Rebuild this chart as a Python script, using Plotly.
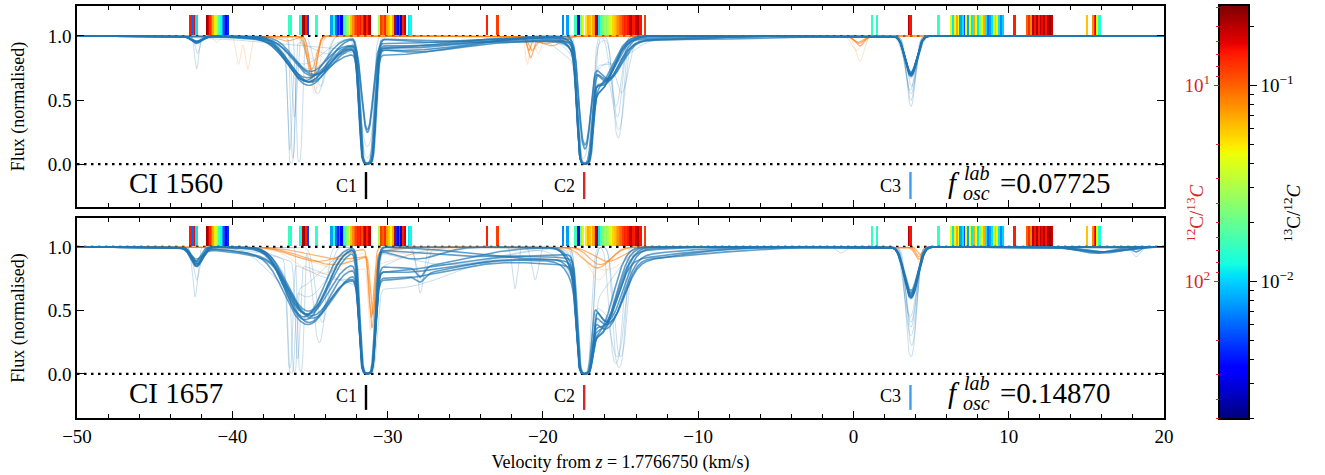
import numpy as np
import plotly.graph_objects as go

# ---------------- data ----------------
VEL_MIN, VEL_MAX = -50.0, 20.0

# Absorption-model components: (velocity km/s, central optical depth, width km/s)
TOP_THICK = [
    [(-42.3, 0.05, 0.35), (-35.1, 0.45, 1.1), (-29.5, 0.08, 4.5), (-31.3, 6, 0.26), (-17.3, 6, 0.25), (-16.5, 0.55, 0.85), (-17, 0.03, 5), (3.7, 0.36, 0.35)],
    [(-42.3, 0.04, 0.35), (-35.2, 0.40, 1.15), (-29.5, 0.10, 4.5), (-31.35, 5, 0.26), (-17.35, 5, 0.24), (-16.4, 0.50, 0.85), (3.7, 0.34, 0.35)],
    [(-42.3, 0.06, 0.30), (-34.9, 0.33, 1.1), (-29.0, 0.12, 4.0), (-31.3, 6, 0.27), (-17.3, 6, 0.26), (-15.9, 0.42, 0.8), (3.7, 0.38, 0.33)],
    [(-42.3, 0.05, 0.35), (-35.0, 0.30, 1.0), (-28.5, 0.13, 3.5), (-31.3, 1.3, 0.28), (-17.3, 2.0, 0.26), (-15.9, 0.40, 0.8), (-17, 0.04, 5), (3.7, 0.35, 0.35)],
    [(-35.2, 0.36, 1.2), (-30.0, 0.06, 5), (-31.3, 1.25, 0.28), (-17.25, 6, 0.25), (-16.6, 0.52, 0.9), (3.7, 0.37, 0.36)],
    [(-42.3, 0.05, 0.30), (-35.3, 0.42, 1.05), (-31.25, 6, 0.26), (-17.3, 6, 0.25), (-16.5, 0.56, 0.85), (-23, 0.05, 6), (3.72, 0.36, 0.35)],
    [(-42.3, 0.04, 0.35), (-34.8, 0.28, 1.1), (-30.0, 0.16, 4.0), (-31.3, 6, 0.26), (-17.3, 1.8, 0.27), (-15.8, 0.38, 0.85), (-12, 0.03, 6), (3.7, 0.33, 0.35)],
    [(-35.1, 0.44, 1.1), (-31.3, 6, 0.26), (-17.3, 6, 0.25), (-16.3, 0.47, 0.9), (-27, 0.05, 3), (3.7, 0.36, 0.34)],
    [(-42.35, 0.05, 0.3), (-35.0, 0.38, 1.1), (-31.0, 0.1, 4.5), (-31.3, 6, 0.26), (-17.3, 6, 0.25), (-16.2, 0.45, 0.9), (-15, 0.04, 4), (3.7, 0.35, 0.35)],
]
TOP_FAINT = [
    [(-42.3, 0.3, 0.12), (-36.2, 5, 0.12), (-35.0, 0.3, 1.2), (-31.3, 6, 0.26), (-17.3, 6, 0.26), (-15.15, 1.6, 0.25), (3.7, 0.8, 0.25)],
    [(-35.7, 4, 0.12), (-34.3, 0.5, 0.35), (-31.3, 3, 0.3), (-17.4, 3, 0.26), (-16.2, 0.4, 0.7), (-15.1, 1.2, 0.3), (3.7, 0.6, 0.3)],
    [(-36.1, 3, 0.10), (-33.5, 0.15, 1.5), (-28, 0.1, 2.5), (-31.2, 6, 0.26), (-17.2, 6, 0.26), (-15.3, 0.8, 0.3), (3.75, 0.5, 0.28)],
    [(-42.25, 0.15, 0.15), (-36.3, 2, 0.10), (-35.5, 0.25, 1.3), (-31.3, 2, 0.35), (-17.3, 4, 0.26), (-16.8, 0.3, 1.2), (-14.9, 0.5, 0.35), (3.7, 0.7, 0.25)],
    [(-30, 0.12, 6), (-31.3, 6, 0.26), (-17.3, 6, 0.26), (-16, 0.25, 1.5), (3.7, 0.4, 0.4)],
    [(-36.0, 1, 0.15), (-34.5, 0.6, 0.4), (-31.4, 6, 0.24), (-18, 0.2, 1), (-17.3, 6, 0.26), (-15.2, 1.0, 0.25), (3.65, 0.55, 0.3)],
]
TOP_ORANGE = [
    [(-34.85, 0.45, 0.25), (-20.8, 0.16, 0.15), (-19.8, 0.06, 0.8), (0.35, 0.06, 0.3)],
    [(-34.8, 0.38, 0.22), (-20.9, 0.12, 0.15), (0.3, 0.05, 0.3), (-36.5, 0.04, 0.5)],
    [(-34.9, 0.30, 0.30), (-20.7, 0.10, 0.2), (-19.5, 0.08, 0.7), (0.4, 0.08, 0.3)],
    [(-39.6, 0.25, 0.15), (-39.0, 0.3, 0.15), (-34.7, 0.6, 0.25), (-20.3, 0.15, 0.2), (0.4, 0.22, 0.25)],
    [(-41, 0.05, 0.2), (-34.9, 0.2, 0.4), (-21, 0.25, 0.12), (0.2, 0.12, 0.3)],
]

BOT_THICK = [
    [(-42.3, 0.16, 0.35), (-35.2, 0.78, 1.15), (-30.5, 0.28, 4.5), (-31.3, 6, 0.26), (-27.9, 0.08, 0.3), (-17.3, 6, 0.25), (-16.5, 1.1, 0.9), (-17, 0.12, 4.5), (3.7, 0.45, 0.4), (16, 0.04, 1.2)],
    [(-42.3, 0.14, 0.35), (-35.3, 0.85, 1.1), (-31.3, 6, 0.26), (-17.3, 6, 0.25), (-16.4, 1.0, 0.9), (-20, 0.1, 4), (3.7, 0.5, 0.38), (15.5, 0.05, 1)],
    [(-42.35, 0.12, 0.3), (-35.1, 0.7, 1.15), (-31.35, 6, 0.26), (-17.35, 6, 0.24), (-15.9, 0.85, 0.85), (-23, 0.08, 5), (3.7, 0.48, 0.4), (16.2, 0.04, 1.2)],
    [(-42.3, 0.15, 0.35), (-35.0, 0.6, 1.1), (-30.5, 0.3, 4.5), (-31.3, 6, 0.26), (-17.3, 6, 0.25), (-15.9, 0.8, 0.9), (-17, 0.15, 4.5), (3.7, 0.45, 0.4)],
    [(-42.3, 0.10, 0.4), (-35.2, 0.72, 1.2), (-29, 0.18, 3.5), (-31.3, 6, 0.27), (-27.9, 0.1, 0.25), (-17.3, 6, 0.26), (-16.6, 1.15, 0.85), (3.7, 0.52, 0.4), (16, 0.05, 1.3)],
    [(-42.3, 0.16, 0.3), (-35.4, 0.8, 1.05), (-31.25, 6, 0.26), (-17.3, 6, 0.25), (-16.3, 1.0, 0.95), (3.72, 0.5, 0.4), (18.2, 0.04, 0.25)],
    [(-42.3, 0.13, 0.35), (-34.9, 0.66, 1.15), (-31, 0.22, 5), (-31.3, 6, 0.26), (-17.25, 6, 0.25), (-15.8, 0.8, 0.85), (-15, 0.1, 5), (3.7, 0.42, 0.38)],
    [(-42.2, 0.14, 0.35), (-35.2, 0.75, 1.1), (-31.3, 6, 0.26), (-28.2, 0.1, 1.5), (-17.3, 6, 0.25), (-16.5, 1.2, 0.9), (3.7, 0.47, 0.4), (15.8, 0.04, 1.4)],
    [(-42.3, 0.12, 0.35), (-35.1, 0.82, 1.1), (-29.5, 0.22, 4.0), (-31.3, 6, 0.26), (-17.3, 6, 0.25), (-16.0, 0.95, 0.9), (-18, 0.1, 4.5), (3.7, 0.5, 0.38)],
]
BOT_FAINT = [
    [(-42.4, 0.5, 0.15), (-36.2, 5, 0.12), (-35.2, 0.5, 1.2), (-31.3, 6, 0.26), (-17.3, 6, 0.26), (-15.1, 3, 0.25), (3.7, 2.0, 0.25)],
    [(-35.6, 4, 0.12), (-34.4, 1.4, 0.3), (-31.3, 6, 0.3), (-27.9, 0.45, 0.2), (-17.3, 6, 0.26), (-16, 0.7, 1), (-15.2, 1.5, 0.3), (3.7, 1.2, 0.3), (-0.8, 0.05, 0.25)],
    [(-36.3, 3, 0.12), (-33, 0.3, 2.5), (-31.3, 6, 0.26), (-21.8, 0.4, 0.15), (-17.4, 6, 0.26), (-15.0, 2, 0.3), (3.7, 0.9, 0.3), (18.2, 0.08, 0.25)],
    [(-42.3, 0.3, 0.2), (-35.8, 2, 0.12), (-30, 0.4, 4), (-31.2, 6, 0.26), (-17.2, 6, 0.26), (-16.8, 0.5, 1.2), (3.75, 1.5, 0.25)],
    [(-34.2, 0.9, 0.35), (-31.3, 6, 0.26), (-27.8, 0.3, 0.3), (-17.3, 6, 0.26), (-15.3, 2.5, 0.28), (-20.5, 0.3, 0.2), (3.65, 0.8, 0.35)],
    [(-36.0, 4, 0.10), (-36, 0.4, 1.5), (-26, 0.15, 3), (-31.35, 6, 0.26), (-17.3, 6, 0.26), (-16.2, 0.9, 0.9), (3.7, 1.0, 0.28)],
]
BOT_ORANGE = [
    [(-31.0, 0.95, 0.14), (-33, 0.1, 2), (-16.3, 0.15, 0.7), (4.2, 0.08, 0.2)],
    [(-31.05, 0.8, 0.15), (-34.5, 0.12, 1.5), (-16.5, 0.18, 0.8), (4.3, 0.06, 0.2)],
    [(-30.95, 0.7, 0.14), (-33.5, 0.15, 1.8), (-15.8, 0.12, 0.9), (4.2, 0.1, 0.25)],
    [(-31.0, 0.5, 0.2), (-35.5, 0.1, 1), (-33.8, 0.2, 1.2), (-16.4, 0.3, 0.6), (-28.5, 0.06, 1.5)],
    [(-31.1, 0.9, 0.12), (-32.5, 0.2, 2.5), (-16, 0.2, 1.2), (4.3, 0.15, 0.2)],
]

# transition markers: velocity and 13C/12C value (colour)
BAR_VEL = [-42.72, -42.58, -42.45, -42.38, -42.3,
           -41.6, -41.5, -41.4, -41.3, -41.2, -41.1, -41.0, -40.9, -40.8, -40.7, -40.6, -40.5, -40.4, -40.25,
           -36.3, -36.2, -35.6, -35.42, -35.33, -35.25, -35.12, -34.6, -34.55,
           -33.6, -33.45, -33.3, -33.15, -33.05, -32.95,
           -32.8, -32.7, -32.6, -32.5, -32.4, -32.3, -32.2, -32.1, -32.0, -31.9, -31.8, -31.7, -31.6, -31.5, -31.4, -31.3, -31.2, -31.1,
           -30.5, -30.38, -30.25, -30.12, -30.0, -29.9, -29.78, -29.65, -29.52, -29.42, -29.32, -29.2, -29.1, -28.95, -28.85, -28.6, -28.5,
           -23.6, -22.9,
           -18.67, -18.39, -17.88, -17.71, -17.6, -17.49, -17.38, -17.21, -17.06, -16.95, -16.84, -16.74, -16.63, -16.52, -16.37, -16.2,
           -16.1, -15.98, -15.87, -15.77, -15.66, -15.55, -15.44, -15.34, -15.23, -15.12, -15.01, -14.91, -14.8, -14.7, -14.59, -14.48,
           -14.38, -14.27, -14.16, -14.06, -13.95, -13.84, -13.69, -13.41,
           1.2, 1.53, 3.58, 3.68, 5.5,
           6.3, 6.42, 6.55, 6.68, 6.8, 6.92, 7.05, 7.18, 7.3, 7.42, 7.55, 7.68, 7.8, 7.92, 8.05, 8.18, 8.3, 8.42, 8.55, 8.68, 8.8, 8.92,
           9.05, 9.18, 9.3, 9.42, 9.55, 9.65,
           10.38, 11.2, 11.32, 11.45, 11.58, 11.7, 11.82, 11.95, 12.08, 12.2, 12.32, 12.45, 12.58, 12.7, 12.8,
           15.07, 15.48, 15.58, 15.66, 15.74, 15.85]
BAR_RATIO = [0.14, 0.006, 0.14, 0.16, 0.011,
             0.22, 0.17, 0.13, 0.095, 0.068, 0.05, 0.035, 0.024, 0.017, 0.012, 0.008, 0.005, 0.0032, 0.0045,
             0.015, 0.014, 0.012, 0.2, 0.22, 0.14, 0.005, 0.014, 0.015,
             0.008, 0.014, 0.006, 0.0042, 0.007, 0.0035,
             0.012, 0.016, 0.022, 0.03, 0.042, 0.06, 0.08, 0.1, 0.12, 0.14, 0.13, 0.15, 0.11, 0.16, 0.2, 0.14, 0.18, 0.21,
             0.03, 0.12, 0.1, 0.13, 0.075, 0.06, 0.045, 0.07, 0.2, 0.0045, 0.0035, 0.006, 0.0025, 0.14, 0.18, 0.011, 0.012,
             0.14, 0.12,
             0.007, 0.0078, 0.015, 0.0027, 0.004, 0.02, 0.04, 0.05, 0.068, 0.06, 0.042, 0.07, 0.08, 0.21, 0.011, 0.016,
             0.022, 0.028, 0.025, 0.032, 0.04, 0.045, 0.055, 0.06, 0.07, 0.08, 0.09, 0.1, 0.12, 0.14, 0.13, 0.15,
             0.17, 0.2, 0.15, 0.14, 0.18, 0.21, 0.15, 0.12,
             0.015, 0.014, 0.2, 0.15, 0.015,
             0.042, 0.011, 0.045, 0.07, 0.04, 0.008, 0.011, 0.005, 0.042, 0.008, 0.045, 0.011, 0.07, 0.042, 0.011, 0.026, 0.045, 0.068, 0.011, 0.006, 0.008, 0.011,
             0.04, 0.06, 0.045, 0.011, 0.007, 0.01,
             0.14, 0.1, 0.13, 0.08, 0.2, 0.15, 0.21, 0.14, 0.2, 0.16, 0.21, 0.15, 0.2, 0.22, 0.18,
             0.06, 0.08, 0.14, 0.2, 0.045, 0.013]

CBAR_RANGE = [0.002, 0.2535]   # 13C/12C range of the colour bar

PANEL_LABELS = ["CI 1560", "CI 1657"]
FOSC_VALUES = ["0.07725", "0.14870"]
COMP_NAMES = ["C1", "C2", "C3"]
COMP_VEL = [-31.39, -17.34, 3.67]
COMP_COLORS = ["#000000", "#d62728", "#3d9ef2"]

X_TICKS = [-50, -40, -30, -20, -10, 0, 10, 20]
Y_TICKS = [0.0, 0.5, 1.0]

# ---------------- helpers ----------------
V = np.linspace(VEL_MIN, VEL_MAX, 4001)


def profile(comps):
    tau = np.zeros_like(V)
    for v0, t0, w in comps:
        tau += t0 * np.exp(-0.5 * ((V - v0) / w) ** 2)
    return np.exp(-tau)


# matplotlib "jet"
_jet_t = [0, 0.11, 0.125, 0.34, 0.35, 0.375, 0.64, 0.65, 0.66, 0.89, 0.91, 1.0]
_r = np.interp(_jet_t, [0, 0.35, 0.66, 0.89, 1], [0, 0, 1, 1, 0.5])
_g = np.interp(_jet_t, [0, 0.125, 0.375, 0.64, 0.91, 1], [0, 0, 1, 1, 0, 0])
_b = np.interp(_jet_t, [0, 0.11, 0.34, 0.65, 1], [0.5, 1, 1, 0, 0])
JET = [[t, f"rgb({int(r*255)},{int(g*255)},{int(b*255)})"] for t, r, g, b in zip(_jet_t, _r, _g, _b)]

LMIN, LMAX = np.log10(CBAR_RANGE[0]), np.log10(CBAR_RANGE[1])

BLUE = "#1f77b4"
ORANGE = "#ff7f0e"
FONT = "Liberation Serif"

fig = go.Figure()

panels = [("x", "y", TOP_THICK, TOP_FAINT, TOP_ORANGE),
          ("x2", "y2", BOT_THICK, BOT_FAINT, BOT_ORANGE)]

for xa, ya, thick, faint, orange in panels:
    for lvl in (1.0, 0.0):
        fig.add_trace(go.Scatter(x=[VEL_MIN, VEL_MAX], y=[lvl, lvl], mode="lines",
                                 line=dict(color="black", width=2.2, dash="2.5px,4.5px"),
                                 xaxis=xa, yaxis=ya, showlegend=False, hoverinfo="skip"))
    for comps in faint:
        fig.add_trace(go.Scatter(x=V, y=profile(comps), mode="lines",
                                 line=dict(color=BLUE, width=0.8), opacity=0.3,
                                 xaxis=xa, yaxis=ya, showlegend=False, hoverinfo="skip"))
    for i, comps in enumerate(orange):
        fig.add_trace(go.Scatter(x=V, y=profile(comps), mode="lines",
                                 line=dict(color=ORANGE, width=1.2 if i < 3 else 0.7),
                                 opacity=0.6 if i < 3 else 0.3,
                                 xaxis=xa, yaxis=ya, showlegend=False, hoverinfo="skip"))
    for comps in thick:
        fig.add_trace(go.Scatter(x=V, y=profile(comps), mode="lines",
                                 line=dict(color=BLUE, width=1.6), opacity=0.7,
                                 xaxis=xa, yaxis=ya, showlegend=False, hoverinfo="skip"))
    fig.add_trace(go.Bar(x=BAR_VEL, y=[0.155] * len(BAR_VEL), base=1.008, width=0.12,
                         marker=dict(color=np.log10(BAR_RATIO), colorscale=JET, cmin=LMIN, cmax=LMAX,
                                     line=dict(width=0)),
                         xaxis=xa, yaxis=ya, showlegend=False, hoverinfo="skip"))

cb_y = np.linspace(LMIN, LMAX, 400)
fig.add_trace(go.Heatmap(x=[0], y=cb_y, z=[[v] for v in cb_y], colorscale=JET, zmin=LMIN, zmax=LMAX,
                         showscale=False, xaxis="x3", yaxis="y3", hoverinfo="skip"))
fig.add_trace(go.Scatter(x=[0], y=[-1], mode="markers", marker=dict(opacity=0), xaxis="x3", yaxis="y4",
                         showlegend=False, hoverinfo="skip"))

# ---------------- layout ----------------
XD = [0, 0.9283]
axis_common = dict(showline=True, linecolor="black", linewidth=1.6, mirror="ticks", ticks="inside",
                   tickcolor="black", tickwidth=1.3, ticklen=7, showgrid=False, zeroline=False,
                   automargin=False, tickfont=dict(family=FONT, size=19, color="black"))
xcommon = dict(axis_common, range=[VEL_MIN, VEL_MAX], tickvals=X_TICKS,
               minor=dict(dtick=2, tick0=0, ticklen=4, ticks="inside", tickcolor="black", tickwidth=1.1))
ycommon = dict(axis_common, tickvals=Y_TICKS, ticktext=[f"{t:.1f}" for t in Y_TICKS],
               title=dict(text="Flux (normalised)", font=dict(family=FONT, size=18, color="black"), standoff=18))

minor_right = [np.log10(k * 10.0 ** e) for e in (-3, -2, -1) for k in range(2, 10)
               if LMIN <= np.log10(k * 10.0 ** e) <= LMAX]
minor_left = [-np.log10(k * 10.0 ** e) for e in (0, 1, 2) for k in range(2, 10)
              if LMIN <= -np.log10(k * 10.0 ** e) <= LMAX]

fig.update_layout(
    width=1325, height=475,
    margin=dict(l=77, r=77, t=6, b=57, autoexpand=False),
    paper_bgcolor="white", plot_bgcolor="white",
    bargap=0,
    xaxis=dict(xcommon, domain=XD, anchor="y", showticklabels=False),
    yaxis=dict(ycommon, domain=[0.5121, 1.0], anchor="x", range=[-0.335, 1.234]),
    xaxis2=dict(xcommon, domain=XD, anchor="y2",
                title=dict(text="Velocity from <i>z</i> = 1.7766750 (km/s)",
                           font=dict(family=FONT, size=18, color="black"), standoff=10)),
    yaxis2=dict(ycommon, domain=[0.0, 0.4854], anchor="x2", range=[-0.347, 1.228]),
    xaxis3=dict(domain=[0.9761, 1.0], anchor="y3", range=[-0.5, 0.5], showticklabels=False, ticks="",
                showline=True, linecolor="black", linewidth=1.6, mirror=True, showgrid=False, zeroline=False,
                automargin=False),
    yaxis3=dict(domain=[0, 1], anchor="x3", side="right", range=[LMIN, LMAX],
                tickvals=[-2, -1], ticktext=["10<sup>−2</sup>", "10<sup>−1</sup>"],
                ticks="outside", ticklen=7, tickwidth=1.3, tickcolor="black",
                minor=dict(tickmode="array", tickvals=minor_right, ticks="outside", ticklen=4,
                           tickcolor="black", tickwidth=1.1),
                showline=True, linecolor="black", linewidth=1.6, mirror=True, showgrid=False, zeroline=False,
                automargin=False, tickfont=dict(family=FONT, size=19, color="black")),
    yaxis4=dict(overlaying="y3", anchor="x3", side="left", range=[LMIN, LMAX],
                tickvals=[-1, -2], ticktext=["10<sup>1</sup>", "10<sup>2</sup>"],
                ticks="outside", ticklen=5, tickwidth=1.3, tickcolor="#d62728",
                minor=dict(tickmode="array", tickvals=minor_left, ticks="outside", ticklen=3,
                           tickcolor="#d62728", tickwidth=1.1),
                showline=False, showgrid=False, zeroline=False, automargin=False,
                tickfont=dict(family=FONT, size=19, color="#d62728")),
)

annotations = []
for xr, yr, name, fval in zip(["x", "x2"], ["y", "y2"], PANEL_LABELS, FOSC_VALUES):
    ymid = -0.15
    annotations.append(dict(x=-46.75, y=ymid, xref=xr, yref=yr, text=name, showarrow=False,
                            xanchor="left", yanchor="middle", font=dict(family=FONT, size=29, color="black")))
    for cname, cv in zip(COMP_NAMES, COMP_VEL):
        annotations.append(dict(x=cv - 0.45, y=ymid - 0.02, xref=xr, yref=yr, text=cname, showarrow=False,
                                xanchor="right", yanchor="middle", font=dict(family=FONT, size=18, color="black")))
    annotations.append(dict(x=5.95, y=ymid, xref=xr, yref=yr, text="<i>f</i>", showarrow=False,
                            xanchor="left", yanchor="middle", font=dict(family=FONT, size=29, color="black")))
    annotations.append(dict(x=7.0, y=-0.072, xref=xr, yref=yr, text="<i>lab</i>", showarrow=False,
                            xanchor="left", yanchor="middle", font=dict(family=FONT, size=20, color="black")))
    annotations.append(dict(x=6.9, y=-0.228, xref=xr, yref=yr, text="<i>osc</i>", showarrow=False,
                            xanchor="left", yanchor="middle", font=dict(family=FONT, size=20, color="black")))
    annotations.append(dict(x=9.3, y=ymid, xref=xr, yref=yr, text="=" + fval, showarrow=False,
                            xanchor="left", yanchor="middle", font=dict(family=FONT, size=29, color="black")))

annotations.append(dict(x=(1195 - 77) / 1171, y=(418 - 213) / 412, xref="paper", yref="paper",
                        text="<sup>12</sup>C/<sup>13</sup><i>C</i>", textangle=-90, showarrow=False,
                        xanchor="center", yanchor="middle", font=dict(family=FONT, size=19, color="#d62728")))
annotations.append(dict(x=(1292 - 77) / 1171, y=(418 - 213) / 412, xref="paper", yref="paper",
                        text="<sup>13</sup>C/<sup>12</sup><i>C</i>", textangle=-90, showarrow=False,
                        xanchor="center", yanchor="middle", font=dict(family=FONT, size=19, color="black")))
fig.update_layout(annotations=annotations)

for xr, yr, y0, y1 in [("x", "y", -0.062, -0.273), ("x2", "y2", -0.087, -0.283)]:
    for cv, cc in zip(COMP_VEL, COMP_COLORS):
        fig.add_shape(type="line", x0=cv, x1=cv, y0=y0, y1=y1, xref=xr, yref=yr,
                      line=dict(color=cc, width=2.4))

fig.write_html("out.html", config={"displayModeBar": False},
               post_script="document.body.style.margin='0px';")
